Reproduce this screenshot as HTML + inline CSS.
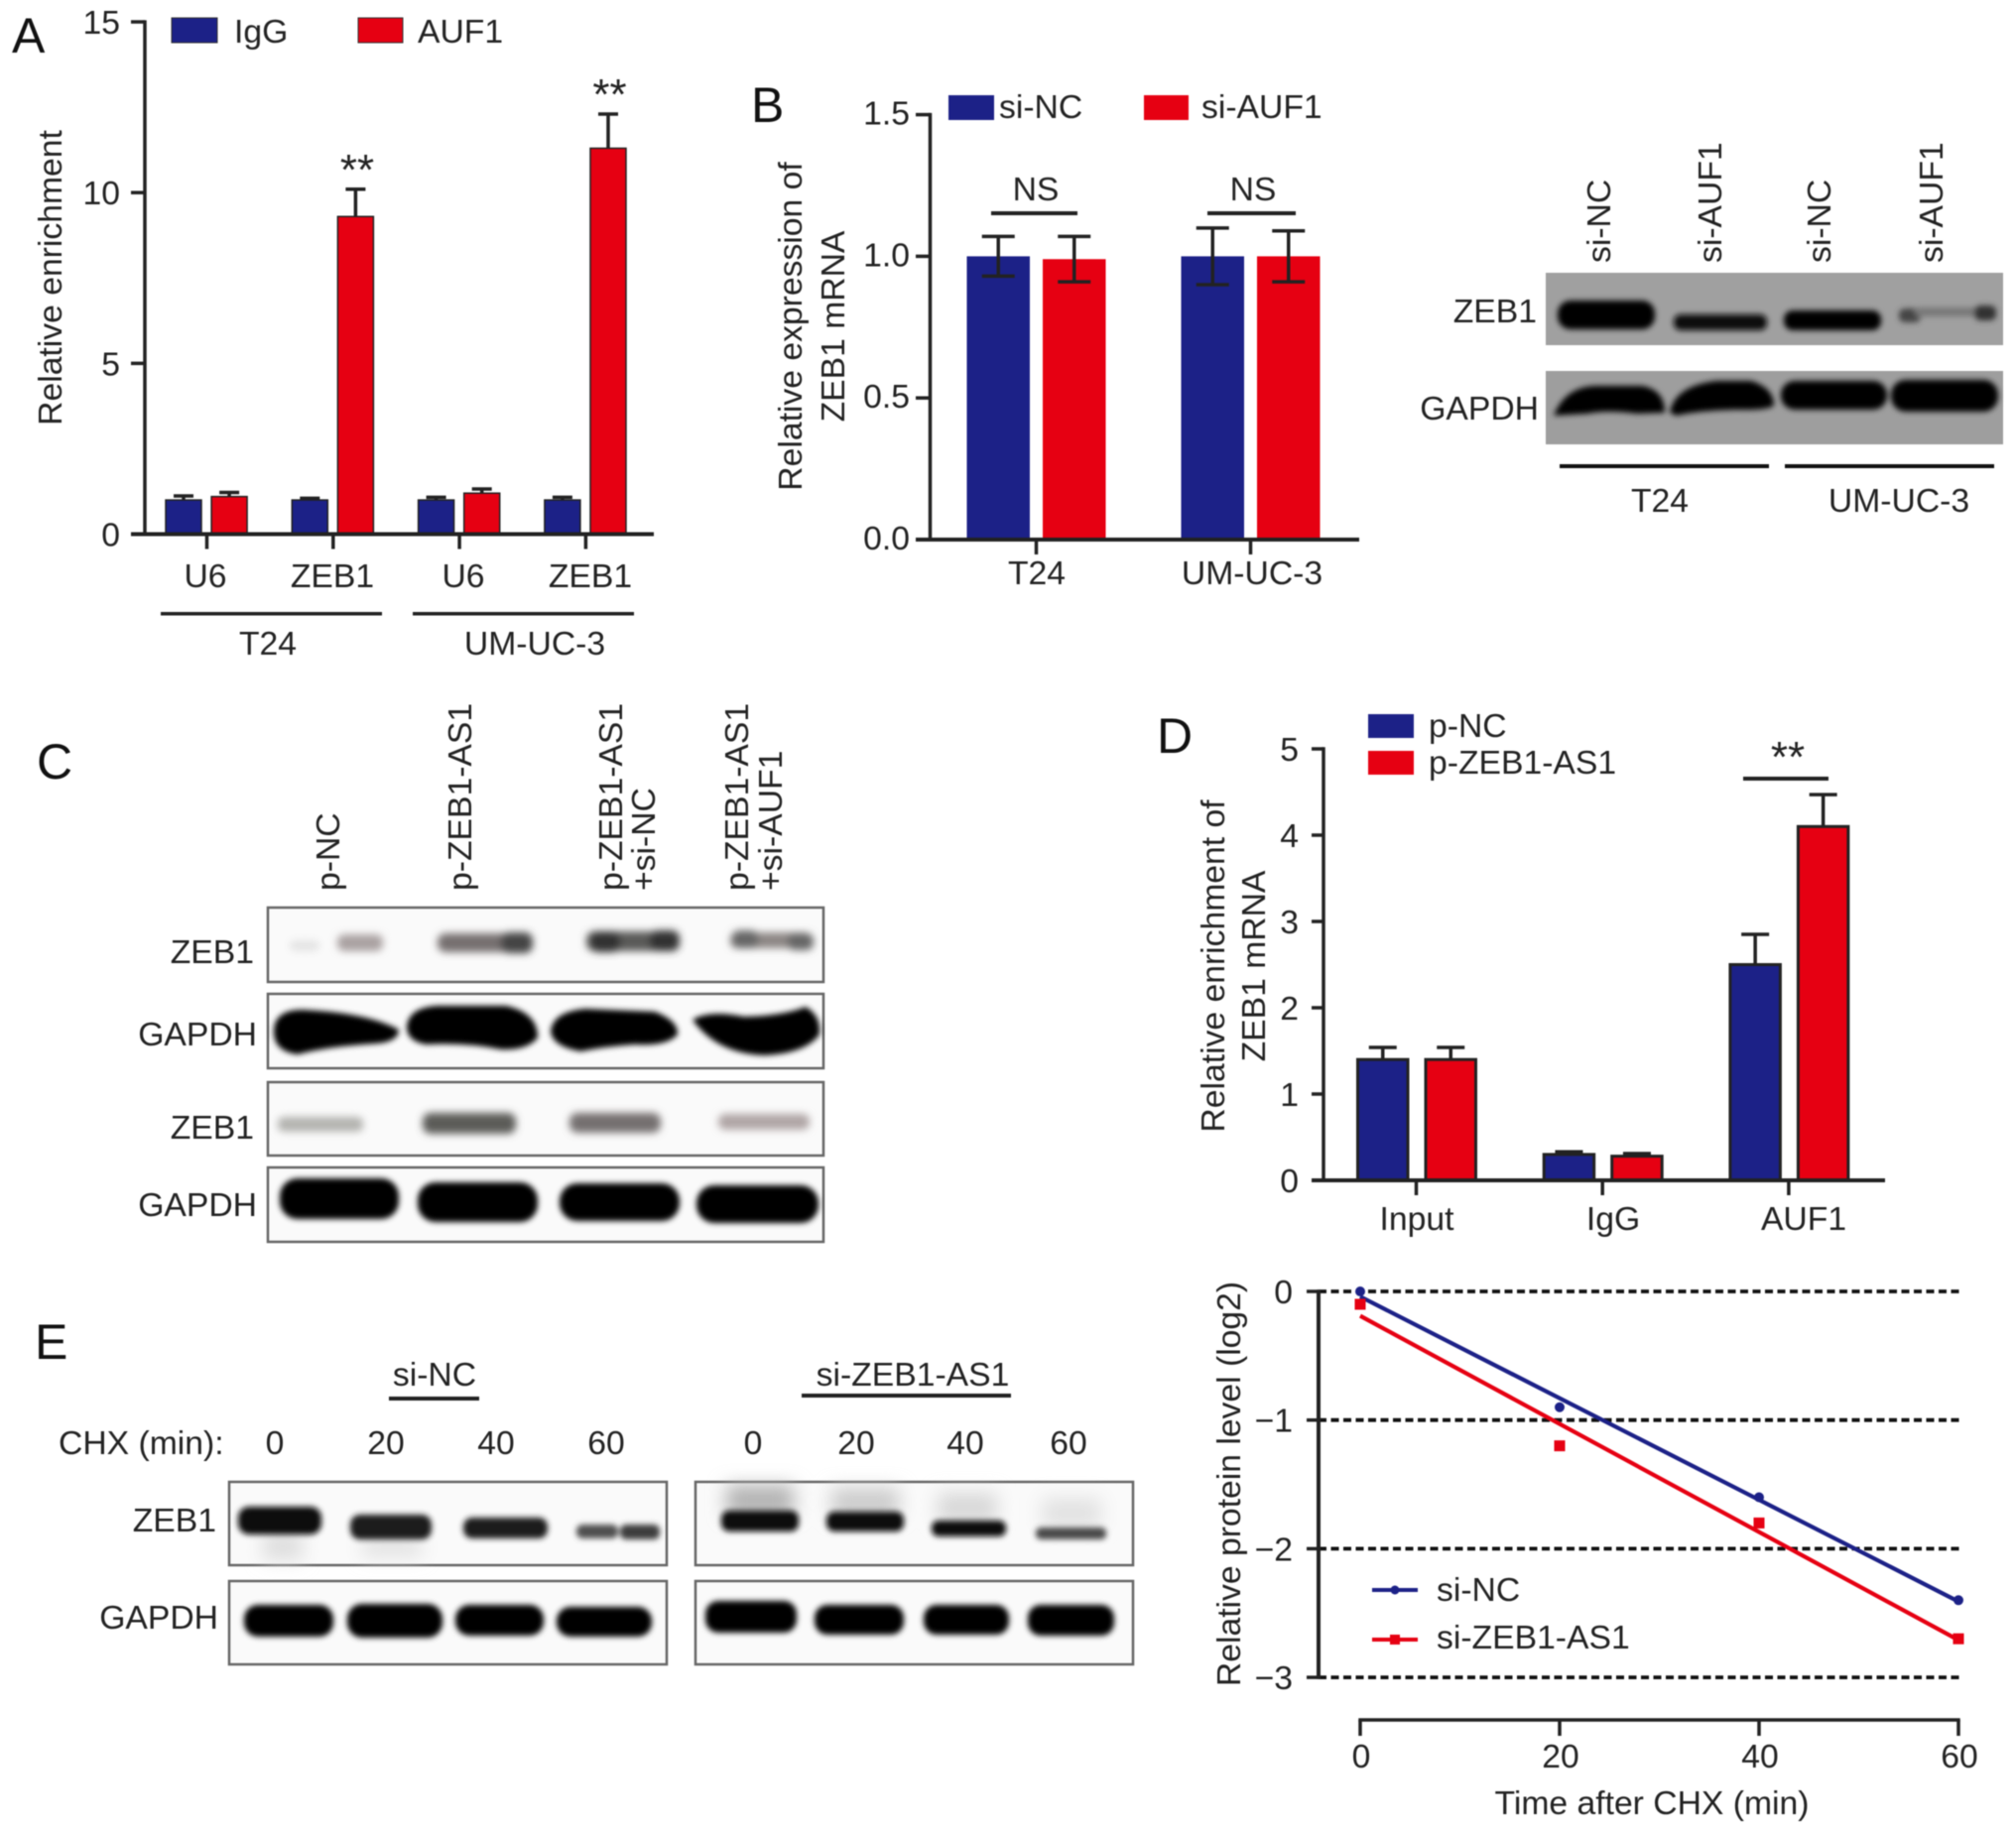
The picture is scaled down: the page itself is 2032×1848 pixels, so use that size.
<!DOCTYPE html>
<html lang="en">
<head>
<meta charset="utf-8">
<title>Figure panels A to F</title>
<style>
html,body{margin:0;padding:0;background:#fff;width:2032px;height:1848px;overflow:hidden}
svg{display:block;filter:blur(.6px)}
text{font-family:"Liberation Sans",sans-serif;font-size:33.7px;fill:#222}
.letter{font-size:50px;fill:#111}
.star{font-size:44px;fill:#222}
.end{text-anchor:end}
.mid{text-anchor:middle}
.box{fill:#fafafa;stroke:#666;stroke-width:2.5}
</style>
</head>
<body>
<svg id="figure" xmlns="http://www.w3.org/2000/svg" width="2032" height="1848" viewBox="0 0 2032 1848">
<defs>
<filter id="b2" x="-30%" y="-80%" width="160%" height="260%"><feGaussianBlur stdDeviation="3"/></filter>
<filter id="b4" x="-30%" y="-100%" width="160%" height="300%"><feGaussianBlur stdDeviation="4"/></filter>
<filter id="b9" x="-30%" y="-60%" width="160%" height="220%"><feGaussianBlur stdDeviation="9"/></filter>
</defs>

<!-- Panel letters -->
<text class="letter" x="12" y="53">A</text>
<text class="letter" x="757" y="123">B</text>
<text class="letter" x="37" y="785">C</text>
<text class="letter" x="1166" y="759">D</text>
<text class="letter" x="35" y="1370">E</text>

<!-- Panel A static -->
<text class="mid" transform="translate(62,280) rotate(-90)">Relative enrichment</text>
<rect x="173" y="18" width="46" height="25" fill="#1c2187" stroke="#333" stroke-width="1"/>
<text x="236" y="43">IgG</text>
<rect x="361" y="18" width="45" height="25" fill="#e60012" stroke="#333" stroke-width="1"/>
<text x="421" y="43">AUF1</text>
<rect x="162" y="617" width="223" height="3.5" fill="#222"/>
<rect x="416" y="617" width="223" height="3.5" fill="#222"/>
<text class="mid" x="270" y="660">T24</text>
<text class="mid" x="539" y="660">UM-UC-3</text>
<text class="star mid" x="360" y="186">**</text>
<text class="star mid" x="614.5" y="110">**</text>

<!-- Panel B static -->
<text class="mid" transform="translate(808,329) rotate(-90)">Relative expression of</text>
<text class="mid" transform="translate(851,329) rotate(-90)">ZEB1 mRNA</text>
<rect x="956" y="96" width="46" height="25" fill="#1c2187"/>
<text x="1007" y="119">si-NC</text>
<rect x="1153" y="96" width="45" height="25" fill="#e60012"/>
<text x="1211" y="119">si-AUF1</text>
<text class="mid" x="1044" y="202">NS</text>
<text class="mid" x="1263" y="202">NS</text>
<rect x="999" y="213" width="87" height="4" fill="#222"/>
<rect x="1217" y="213" width="89" height="4" fill="#222"/>

<!-- Panel B western blot -->
<g>
<text transform="translate(1623,265) rotate(-90)">si-NC</text>
<text transform="translate(1735,265) rotate(-90)">si-AUF1</text>
<text transform="translate(1845,265) rotate(-90)">si-NC</text>
<text transform="translate(1958,265) rotate(-90)">si-AUF1</text>
<text class="end" x="1549" y="325">ZEB1</text>
<text class="end" x="1551" y="423">GAPDH</text>
<rect x="1558" y="275" width="461" height="73" fill="#a0a0a0"/>
<rect x="1558" y="374" width="461" height="74" fill="#9e9e9e"/>
<g fill="#060606" filter="url(#b2)">
<rect x="1570" y="303" width="98" height="29" rx="13"/>
<rect x="1687" y="317" width="94" height="16" rx="7" fill="#0c0c0c"/>
<rect x="1798" y="313" width="98" height="20" rx="9"/>
<rect x="1914" y="311" width="22" height="14" rx="6" fill="#444"/>
<rect x="1930" y="310" width="70" height="9" rx="4" fill="#787878"/>
<rect x="1990" y="308" width="22" height="15" rx="6" fill="#333"/>
<path d="M1566 419 Q1578 389 1610 389 L1655 389 Q1678 393 1678 416 L1650 417 Q1620 413 1600 417 Z"/>
<path d="M1683 416 Q1688 389 1730 384 L1765 384 Q1788 391 1788 409 Q1780 414 1750 413 Q1710 414 1690 419 Z"/>
<rect x="1795" y="384" width="107" height="29" rx="14"/>
<rect x="1906" y="383" width="108" height="32" rx="15"/>
</g>
<rect x="1572" y="468" width="211" height="4" fill="#111"/>
<rect x="1799" y="468" width="211" height="4" fill="#111"/>
<text class="mid" x="1673" y="516">T24</text>
<text class="mid" x="1914" y="516">UM-UC-3</text>
</g>

<!-- Panel C western blot -->
<g>
<text transform="translate(342,898) rotate(-90)">p-NC</text>
<text transform="translate(475,898) rotate(-90)">p-ZEB1-AS1</text>
<text transform="translate(627,898) rotate(-90)">p-ZEB1-AS1</text>
<text transform="translate(660,898) rotate(-90)">+si-NC</text>
<text transform="translate(754,898) rotate(-90)">p-ZEB1-AS1</text>
<text transform="translate(788,898) rotate(-90)">+si-AUF1</text>
<text class="end" x="256" y="971">ZEB1</text>
<text class="end" x="259" y="1054">GAPDH</text>
<text class="end" x="256" y="1148">ZEB1</text>
<text class="end" x="259" y="1226">GAPDH</text>
<rect class="box" x="270" y="915" width="560" height="75"/>
<rect class="box" x="270" y="1002" width="560" height="75"/>
<rect class="box" x="270" y="1091" width="560" height="74"/>
<rect class="box" x="270" y="1177" width="560" height="75"/>
<g filter="url(#b4)">
<rect x="340" y="942" width="46" height="17" rx="7" fill="#aaa2a2"/>
<rect x="292" y="948" width="30" height="11" rx="5" fill="#e4e4e4"/>
<rect x="441" y="941" width="95" height="19" rx="8" fill="#767070"/>
<rect x="505" y="940" width="32" height="21" rx="8" fill="#444"/>
<rect x="591" y="939" width="92" height="20" rx="8" fill="#5a5a58"/>
<rect x="595" y="939" width="30" height="21" rx="8" fill="#333"/>
<rect x="655" y="938" width="30" height="21" rx="8" fill="#333"/>
<rect x="736" y="940" width="82" height="16" rx="7" fill="#8c8684"/>
<rect x="738" y="938" width="26" height="18" rx="7" fill="#666"/>
<rect x="794" y="941" width="26" height="17" rx="7" fill="#666"/>
<rect x="280" y="1126" width="86" height="15" rx="6" fill="#b4b4b0"/>
<rect x="426" y="1122" width="94" height="21" rx="8" fill="#5c5c58"/>
<rect x="574" y="1122" width="92" height="20" rx="8" fill="#747070"/>
<rect x="724" y="1123" width="92" height="16" rx="7" fill="#b0a6a6"/>
</g>
<g fill="#050505" filter="url(#b2)">
<path d="M276 1040 Q276 1018 305 1018 Q370 1021 402 1038 Q402 1050 380 1052 Q330 1055 300 1063 Q276 1060 276 1040Z"/>
<path d="M410 1035 Q412 1016 440 1014 L510 1014 Q542 1021 542 1046 Q532 1059 505 1058 Q470 1051 430 1053 Q410 1050 410 1035Z"/>
<path d="M555 1040 Q557 1020 590 1017 L660 1020 Q684 1029 683 1043 Q672 1055 640 1053 Q610 1055 585 1060 Q557 1055 555 1040Z"/>
<path d="M698 1028 Q715 1018 750 1025 Q790 1024 812 1015 Q828 1024 826 1043 Q812 1062 770 1064 Q722 1062 698 1028Z"/>
<rect x="282" y="1188" width="120" height="41" rx="18"/>
<rect x="421" y="1192" width="121" height="40" rx="18"/>
<rect x="564" y="1193" width="121" height="38" rx="18"/>
<rect x="702" y="1195" width="123" height="38" rx="18"/>
</g>
</g>

<!-- Panel D static -->
<text class="mid" transform="translate(1234,974) rotate(-90)">Relative enrichment of</text>
<text class="mid" transform="translate(1275,974) rotate(-90)">ZEB1 mRNA</text>
<rect x="1379" y="720" width="46" height="24" fill="#1c2187"/>
<text x="1440" y="743">p-NC</text>
<rect x="1379" y="757" width="46" height="24" fill="#e60012"/>
<text x="1440" y="780">p-ZEB1-AS1</text>
<rect x="1757" y="783" width="86" height="4" fill="#222"/>
<text class="star mid" x="1802" y="778">**</text>

<!-- Panel E western blot -->
<g>
<text class="mid" x="438" y="1397">si-NC</text>
<rect x="392" y="1408" width="91" height="4" fill="#222"/>
<text class="mid" x="920" y="1397">si-ZEB1-AS1</text>
<rect x="808" y="1405" width="211" height="4" fill="#222"/>
<text x="59" y="1466">CHX (min):</text>
<text class="mid" x="277" y="1466">0</text>
<text class="mid" x="389" y="1466">20</text>
<text class="mid" x="500" y="1466">40</text>
<text class="mid" x="611" y="1466">60</text>
<text class="mid" x="759" y="1466">0</text>
<text class="mid" x="863" y="1466">20</text>
<text class="mid" x="973" y="1466">40</text>
<text class="mid" x="1077" y="1466">60</text>
<text class="end" x="218" y="1544">ZEB1</text>
<text class="end" x="220" y="1642">GAPDH</text>
<rect class="box" x="231" y="1494" width="441" height="84"/>
<rect class="box" x="701" y="1494" width="441" height="84"/>
<rect class="box" x="231" y="1594" width="441" height="84"/>
<rect class="box" x="701" y="1594" width="441" height="84"/>
<g filter="url(#b9)">
<rect x="732" y="1497" width="68" height="32" fill="#b4b4b4"/>
<rect x="838" y="1500" width="68" height="30" fill="#cccccc"/>
<rect x="945" y="1505" width="60" height="30" fill="#d8d8d8"/>
<rect x="1050" y="1510" width="60" height="30" fill="#e2e2e2"/>
<rect x="265" y="1545" width="40" height="28" fill="#dedede"/>
<rect x="365" y="1550" width="60" height="20" fill="#e2e2e2"/>
</g>
<g fill="#0a0a0a" filter="url(#b2)">
<rect x="240" y="1519" width="84" height="28" rx="11"/>
<rect x="353" y="1527" width="82" height="25" rx="10" fill="#1c1c1c"/>
<rect x="467" y="1530" width="85" height="21" rx="9" fill="#1c1c1c"/>
<rect x="581" y="1537" width="42" height="14" rx="6" fill="#505050"/>
<rect x="625" y="1537" width="40" height="15" rx="6" fill="#3c3c3c"/>
<rect x="727" y="1523" width="78" height="21" rx="8"/>
<rect x="833" y="1524" width="78" height="20" rx="8"/>
<rect x="939" y="1533" width="75" height="16" rx="7"/>
<rect x="1044" y="1540" width="71" height="12" rx="5" fill="#484848"/>
<rect x="246" y="1618" width="90" height="32" rx="14" fill="#030303"/>
<rect x="350" y="1617" width="96" height="34" rx="15" fill="#030303"/>
<rect x="459" y="1618" width="89" height="31" rx="14" fill="#030303"/>
<rect x="561" y="1620" width="96" height="30" rx="14" fill="#030303"/>
<rect x="711" y="1614" width="92" height="32" rx="13" fill="#030303"/>
<rect x="821" y="1618" width="90" height="30" rx="13" fill="#030303"/>
<rect x="931" y="1618" width="86" height="30" rx="13" fill="#030303"/>
<rect x="1036" y="1618" width="87" height="31" rx="13" fill="#030303"/>
</g>
</g>

<!-- Panel F static -->
<text class="mid" transform="translate(1250,1496) rotate(-90)">Relative protein level (log2)</text>
<text class="mid" x="1665" y="1829">Time after CHX (min)</text>
<line x1="1383" y1="1603" x2="1429" y2="1603" stroke="#1c2187" stroke-width="4"/>
<circle cx="1406" cy="1603" r="4.5" fill="#1c2187"/>
<text x="1448" y="1614">si-NC</text>
<line x1="1383" y1="1653" x2="1429" y2="1653" stroke="#e60012" stroke-width="4"/>
<rect x="1401" y="1648" width="10" height="10" fill="#e60012"/>
<text x="1448" y="1662">si-ZEB1-AS1</text>

<g id="charts"></g>
</svg>

<script>
// Panel A data
const aCategories = ['U6', 'ZEB1', 'U6', 'ZEB1'];
const aIgG = [1.0, 1.0, 1.0, 1.0];
const aIgGErr = [0.12, 0.05, 0.08, 0.08];
const aAUF1 = [1.1, 9.3, 1.2, 11.3];
const aAUF1Err = [0.12, 0.8, 0.12, 1.0];
const aTicks = [0, 5, 10, 15];

// Panel B data
const bCategories = ['T24', 'UM-UC-3'];
const bSiNC = [1.0, 1.0];
const bSiNCErr = [0.07, 0.1];
const bSiAUF1 = [0.99, 1.0];
const bSiAUF1Err = [0.08, 0.09];
const bTicks = ['0.0', '0.5', '1.0', '1.5'];

// Panel D data
const dCategories = ['Input', 'IgG', 'AUF1'];
const dPNC = [1.4, 0.3, 2.5];
const dPNCErr = [0.14, 0.03, 0.35];
const dPZEB = [1.4, 0.28, 4.1];
const dPZEBErr = [0.14, 0.03, 0.37];
const dTicks = [0, 1, 2, 3, 4, 5];

// Panel F data
const fTimes = [0, 20, 40, 60];
const fSiNC = [0, -0.9, -1.6, -2.4];
const fSiZEB = [-0.1, -1.2, -1.8, -2.7];
const fYTicks = [0, -1, -2, -3];
const fXTicks = [0, 20, 40, 60];

const root = document.getElementById('charts');
const NS = 'http://www.w3.org/2000/svg';
const INK = '#222';
const BLUE = '#1c2187';
const RED = '#e60012';

function mk(tag, attrs) {
  const n = document.createElementNS(NS, tag);
  for (const k in attrs) n.setAttribute(k, attrs[k]);
  root.appendChild(n);
  return n;
}

function seg(x1, y1, x2, y2, width) {
  return mk('line', { x1: x1, y1: y1, x2: x2, y2: y2, stroke: INK, 'stroke-width': width });
}

function label(x, y, txt, cls) {
  const n = mk('text', { x: x, y: y, class: cls });
  n.textContent = txt;
  return n;
}

// Draws one bar chart panel from its data arrays and axis functions.
function barPanel(p) {
  p.blue.forEach(function (v, i) {
    const cx = p.xOf(i);
    [[v, p.blueErr[i], BLUE, p.blueDx, 'blue'], [p.red[i], p.redErr[i], RED, p.redDx, 'red']].forEach(function (s) {
      const top = p.yOf(s[0]);
      const bar = mk('rect', {
        x: cx + s[3], y: top, width: p.barW, height: p.yOf(0) - top, fill: s[2],
        stroke: p.barStroke ? '#222' : 'none', 'stroke-width': p.barStroke
      });
      
      
      const mx = cx + s[3] + p.barW / 2;
      const upper = p.yOf(s[0] + s[1]);
      const lower = p.both ? p.yOf(s[0] - s[1]) : top;
      const stem = seg(mx, upper, mx, lower, 3.5);
      
      
      const cap = seg(mx - p.capW / 2, upper, mx + p.capW / 2, upper, 3.5);
      
      
      if (p.both) {
        const low = seg(mx - p.capW / 2, lower, mx + p.capW / 2, lower, 3.5);
        
        
      }
    });
    const tick = seg(cx, p.yOf(0), cx, p.yOf(0) + 15, 3.5);
    
    
    const tl = label(p.labelX(i), p.labelY, p.categories[i], 'mid');
    
    
  });
  p.ticks.forEach(function (t) {
    const y = p.yOf(Number(t));
    const tick = seg(p.tickLeft, y, p.axisX, y, 3.5);
    
    
    const tl = label(p.labelRight, y + p.labelDy, String(t), 'end');
    
    
  });
  const yTop = p.yOf(Number(p.ticks[p.ticks.length - 1]));
  const yAxis = seg(p.axisX, yTop - 1.7, p.axisX, p.yOf(0) + 1.7, 3.5);
  
  
  const xAxis = seg(p.tickLeft, p.yOf(0), p.axisRight, p.yOf(0), 4);
  
  
}

barPanel({
  id: 'a', categories: aCategories, ticks: aTicks,
  blue: aIgG, blueErr: aIgGErr, red: aAUF1, redErr: aAUF1Err,
  xOf: function (i) { return 208.5 + i * 127.3; },
  yOf: function (v) { return 538.5 - v * 34.43; },
  blueDx: -41.5, redDx: 4.6, barW: 36, capW: 20, barStroke: 1.5, both: false,
  axisX: 146, tickLeft: 132, axisRight: 659, labelRight: 121, labelDy: 12,
  labelX: function (i) { return [207, 335, 467, 595][i]; }, labelY: 592
});

barPanel({
  id: 'b', categories: bCategories, ticks: bTicks,
  blue: bSiNC, blueErr: bSiNCErr, red: bSiAUF1, redErr: bSiAUF1Err,
  xOf: function (i) { return 1044.5 + i * 216; },
  yOf: function (v) { return 544 - v * 285.6; },
  blueDx: -70, redDx: 6.5, barW: 63.5, capW: 33, barStroke: 0, both: true,
  axisX: 937.5, tickLeft: 923, axisRight: 1370, labelRight: 917, labelDy: 10,
  labelX: function (i) { return [1045, 1262][i]; }, labelY: 589
});

barPanel({
  id: 'd', categories: dCategories, ticks: dTicks,
  blue: dPNC, blueErr: dPNCErr, red: dPZEB, redErr: dPZEBErr,
  xOf: function (i) { return 1427.5 + i * 187.7; },
  yOf: function (v) { return 1190 - v * 87; },
  blueDx: -59, redDx: 9.5, barW: 50.5, capW: 28, barStroke: 3, both: false,
  axisX: 1334, tickLeft: 1322, axisRight: 1900, labelRight: 1309, labelDy: 12,
  labelX: function (i) { return [1428, 1626, 1818][i]; }, labelY: 1240
});

// Panel F axis functions
function fx(t) { return 1371 + t * (1974 - 1371) / 60; }
function fy(v) { return 1302 - v * 129.7; }

function fit(xs, ys) {
  const n = xs.length;
  const mx = xs.reduce(function (a, b) { return a + b; }, 0) / n;
  const my = ys.reduce(function (a, b) { return a + b; }, 0) / n;
  let sxy = 0;
  let sxx = 0;
  xs.forEach(function (x, i) { sxy += (x - mx) * (ys[i] - my); sxx += (x - mx) * (x - mx); });
  const slope = sxy / sxx;
  return function (x) { return my + slope * (x - mx); };
}

fYTicks.forEach(function (t) {
  const grid = mk('line', {
    x1: 1329, y1: fy(t), x2: 1976, y2: fy(t), stroke: '#111', 'stroke-width': 3.8, 'stroke-dasharray': '8 4.5'
  });
  
  
  const tick = seg(1317, fy(t), 1329, fy(t), 3.5);
  
  
  const tl = label(1303, fy(t) + 12, t === 0 ? '0' : '\u2212' + Math.abs(t), 'end');
  
  
});
const fYAxis = seg(1329, fy(fYTicks[0]) - 1.7, 1329, fy(fYTicks[3]) + 1.7, 4);



fXTicks.forEach(function (t) {
  const tick = seg(fx(t), 1734, fx(t), 1750, 3.5);
  
  
  const tl = label(fx(t) + 1, 1782, String(t), 'mid');
  
  
});
const fXAxis = seg(fx(fXTicks[0]) - 1.7, 1734, fx(fXTicks[3]) + 1.7, 1734, 3.5);



const fitNC = fit(fTimes, fSiNC);
const fitZEB = fit(fTimes, fSiZEB);
const lineNC = mk('line', {
  x1: fx(fTimes[0]), y1: fy(fitNC(fTimes[0])), x2: fx(fTimes[3]), y2: fy(fitNC(fTimes[3])), stroke: BLUE, 'stroke-width': 4.2
});


const lineZEB = mk('line', {
  x1: fx(fTimes[0]), y1: fy(fitZEB(fTimes[0])), x2: fx(fTimes[3]), y2: fy(fitZEB(fTimes[3])), stroke: RED, 'stroke-width': 4.2
});



fTimes.forEach(function (t, i) {
  const dot = mk('circle', { cx: fx(t), cy: fy(fSiNC[i]), r: 5, fill: BLUE });
  
  
  const sq = mk('rect', { x: fx(t) - 5.5, y: fy(fSiZEB[i]) - 5.5, width: 11, height: 11, fill: RED });
  
  
});
</script>
</body>
</html>
